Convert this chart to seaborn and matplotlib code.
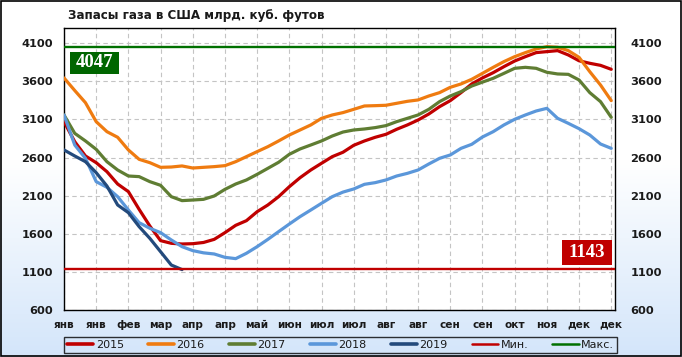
import numpy as np
import pandas as pd
import matplotlib
matplotlib.use("Agg")
import matplotlib.pyplot as plt
import seaborn as sns
from matplotlib.lines import Line2D
from matplotlib.patches import Rectangle

# ---------------- data ----------------
title = "Запасы газа в США млрд. куб. футов"
month_labels = ["янв", "янв", "фев", "мар", "апр", "апр", "май", "июн", "июл",
                "июл", "авг", "авг", "сен", "сен", "окт", "ноя", "дек", "дек"]
years = ["2015", "2016", "2017", "2018", "2019"]

y2015 = [3071, 2809, 2621, 2533, 2415, 2253, 2153, 1921, 1702, 1510, 1475, 1466, 1470,
         1486, 1527, 1615, 1711, 1772, 1890, 1978, 2087, 2218, 2336, 2437, 2525, 2612,
         2670, 2761, 2818, 2866, 2905, 2971, 3028, 3093, 3172, 3268, 3347, 3452, 3566,
         3645, 3714, 3793, 3867, 3924, 3977, 3990, 4003, 3946, 3870, 3837, 3810, 3758]
y2016 = [3645, 3480, 3320, 3071, 2940, 2866, 2700, 2577, 2533, 2472, 2476, 2490, 2463,
         2472, 2481, 2494, 2546, 2612, 2678, 2743, 2818, 2896, 2962, 3028, 3115, 3159,
         3190, 3233, 3277, 3281, 3286, 3312, 3338, 3356, 3408, 3452, 3522, 3566, 3627,
         3705, 3784, 3859, 3924, 3977, 4025, 4055, 4047, 4003, 3915, 3727, 3552, 3347]
y2017 = [3159, 2918, 2818, 2708, 2546, 2437, 2358, 2350, 2284, 2236, 2087, 2035, 2043,
         2052, 2096, 2183, 2253, 2306, 2380, 2459, 2538, 2643, 2713, 2765, 2818, 2883,
         2935, 2962, 2975, 2993, 3019, 3071, 3115, 3159, 3233, 3334, 3408, 3465, 3539,
         3590, 3640, 3705, 3771, 3784, 3771, 3719, 3697, 3692, 3618, 3452, 3334, 3128]
y2018 = [3159, 2765, 2590, 2284, 2210, 2087, 1912, 1746, 1672, 1615, 1519, 1431, 1379,
         1350, 1335, 1291, 1274, 1344, 1431, 1527, 1628, 1728, 1825, 1912, 2000, 2087,
         2147, 2188, 2249, 2271, 2306, 2358, 2393, 2437, 2516, 2590, 2634, 2721, 2774,
         2870, 2940, 3028, 3102, 3159, 3211, 3246, 3115, 3049, 2979, 2896, 2778, 2721]
y2019 = [2700, 2621, 2546, 2402, 2227, 1978, 1877, 1694, 1540, 1365, 1190, 1130]

min_val = 1143
max_val = 4047
min_label = "Мин."
max_label = "Макс."

y_ticks = [600, 1100, 1600, 2100, 2600, 3100, 3600, 4100]

# ---------------- styles ----------------
palette = {"2015": "#c00000", "2016": "#ef7b10", "2017": "#5f7d33",
           "2018": "#5b97da", "2019": "#234a7c"}
min_color = "#c00000"
max_color = "#007000"
box_green = "#006600"
box_red = "#c00000"

sns.set_style("white")
plt.rcParams["font.family"] = ["DejaVu Sans"]

fig = plt.figure(figsize=(6.82, 3.57), dpi=100)
fig.patch.set_facecolor("white")

# background gradient (white -> light blue)
bg = fig.add_axes([0, 0, 1, 1], zorder=-10)
rows = np.linspace(0, 1, 300)
t = np.clip((rows - 0.45) / 0.55, 0, 1)[:, None, None]
top = np.array([1.0, 1.0, 1.0])[None, None, :]
bot = np.array([0.83, 0.90, 0.98])[None, None, :]
img = top * (1 - t) + bot * t
bg.imshow(img, aspect="auto", extent=[0, 1, 0, 1])
bg.set_xlim(0, 1); bg.set_ylim(0, 1)
bg.axis("off")

ax = fig.add_axes([64 / 682, 1 - 310 / 357, 551 / 682, 282 / 357])
ax.set_facecolor("white")

series = [y2015, y2016, y2017, y2018, y2019]
frames = [pd.DataFrame({"week": np.arange(len(v)), "value": v, "year": y})
          for y, v in zip(years, series)]
df = pd.concat(frames, ignore_index=True)

sns.lineplot(data=df, x="week", y="value", hue="year", palette=palette,
             linewidth=2.3, legend=False, ax=ax, sort=False, zorder=3)

ax.axhline(min_val, color=min_color, lw=1.7, zorder=4)
ax.axhline(max_val, color=max_color, lw=1.7, zorder=4)

ax.set_xlim(0, 51.35)
ax.set_ylim(600, 4300)
ax.set_xticks(np.arange(0, 52, 3))
ax.set_xticklabels(month_labels, fontsize=7.6, fontweight="bold", color="#1a1a1a")
ax.set_yticks(y_ticks)
ax.set_yticklabels([str(v) for v in y_ticks], fontsize=8.2, fontweight="bold", color="#1a1a1a")
ax.tick_params(axis="both", length=0)
ax.tick_params(axis="x", pad=7)
ax.tick_params(axis="y", pad=8)
ax.set_xlabel("")
ax.set_ylabel("")
ax.grid(True, linestyle=(0, (4, 3)), color="#c4c4c4", linewidth=0.8, zorder=0)
ax.set_axisbelow(True)
for s in ax.spines.values():
    s.set_color("black")
    s.set_linewidth(1.0)

ax2 = ax.twinx()
ax2.set_ylim(600, 4300)
ax2.set_yticks(y_ticks)
ax2.set_yticklabels([str(v) for v in y_ticks], fontsize=8.2, fontweight="bold", color="#1a1a1a")
ax2.tick_params(axis="y", length=0, pad=11)
for s in ax2.spines.values():
    s.set_visible(False)

# value boxes
ax.add_patch(Rectangle((0.0109, 0.836), 0.0889, 0.080, transform=ax.transAxes,
                       facecolor=box_green, edgecolor="none", zorder=6))
ax.text(0.0109 + 0.0889 / 2, 0.836 + 0.040, str(max_val), transform=ax.transAxes,
        ha="center", va="center", color="white", fontsize=13.5, fontweight="bold",
        family="Liberation Serif", zorder=7)
ax.add_patch(Rectangle((0.904, 0.160), 0.091, 0.088, transform=ax.transAxes,
                       facecolor=box_red, edgecolor="none", zorder=6))
ax.text(0.904 + 0.091 / 2, 0.160 + 0.044, str(min_val), transform=ax.transAxes,
        ha="center", va="center", color="white", fontsize=13.5, fontweight="bold",
        family="Liberation Serif", zorder=7)

# title
fig.text(68 / 682, 1 - 16 / 357, title, ha="left", va="center",
         fontsize=8.6, fontweight="bold", color="#1a1a1a")

# legend
handles = [Line2D([0], [0], color=palette[y], lw=2.6) for y in years]
handles += [Line2D([0], [0], color=min_color, lw=1.8),
            Line2D([0], [0], color=max_color, lw=1.8)]
labels = years + [min_label, max_label]
leg = fig.legend(handles, labels, loc="lower left", ncol=7, mode="expand",
                 bbox_to_anchor=(64 / 682, 4 / 357, 553 / 682, 20 / 357),
                 fontsize=8, frameon=True, fancybox=False, handlelength=2.4,
                 handletextpad=0.2, borderpad=0.25, borderaxespad=0.0,
                 columnspacing=1.0)
leg.get_frame().set_edgecolor("black")
leg.get_frame().set_facecolor("none")
leg.get_frame().set_linewidth(1.0)
for txt in leg.get_texts():
    txt.set_color("#1a1a1a")

# outer border
fig.patches.append(Rectangle((0.001, 0.002), 0.997, 0.996, transform=fig.transFigure,
                             fill=False, edgecolor="black", linewidth=1.2, zorder=20))

fig.savefig("out.png", dpi=100)
